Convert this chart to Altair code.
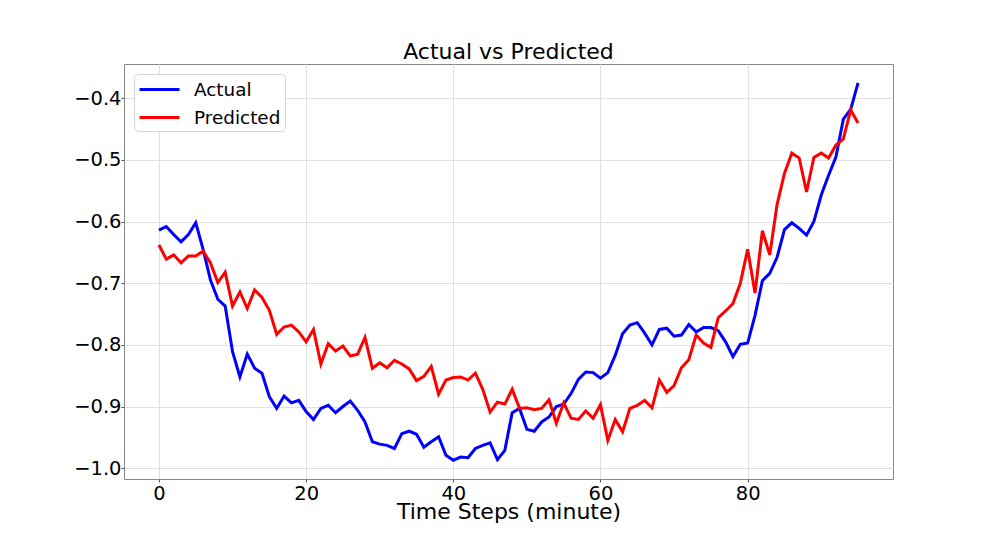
import altair as alt
import pandas as pd

steps = list(range(96))

actual = [
    -0.614, -0.608, -0.621, -0.633, -0.621, -0.602, -0.645, -0.695, -0.726, -0.737,
    -0.811, -0.852, -0.815, -0.838, -0.846, -0.884, -0.903, -0.883, -0.894, -0.890,
    -0.908, -0.921, -0.903, -0.898, -0.910, -0.900, -0.891, -0.906, -0.925, -0.957,
    -0.961, -0.963, -0.968, -0.944, -0.940, -0.945, -0.966, -0.957, -0.949, -0.979,
    -0.987, -0.982, -0.983, -0.968, -0.963, -0.959, -0.986, -0.971, -0.910, -0.903,
    -0.937, -0.940, -0.925, -0.917, -0.900, -0.896, -0.879, -0.856, -0.844, -0.845,
    -0.854, -0.845, -0.817, -0.782, -0.768, -0.764, -0.781, -0.800, -0.775, -0.773,
    -0.786, -0.784, -0.767, -0.779, -0.772, -0.772, -0.777, -0.795, -0.819, -0.799,
    -0.797, -0.752, -0.696, -0.684, -0.658, -0.613, -0.602, -0.611, -0.622, -0.600,
    -0.557, -0.525, -0.495, -0.434, -0.418, -0.375,
]

predicted = [
    -0.638, -0.661, -0.654, -0.667, -0.656, -0.656, -0.648, -0.667, -0.699, -0.682,
    -0.737, -0.714, -0.741, -0.711, -0.723, -0.744, -0.783, -0.771, -0.768, -0.779,
    -0.795, -0.775, -0.831, -0.798, -0.810, -0.802, -0.818, -0.815, -0.788, -0.838,
    -0.829, -0.837, -0.825, -0.831, -0.839, -0.858, -0.851, -0.835, -0.880, -0.857,
    -0.853, -0.852, -0.857, -0.846, -0.872, -0.909, -0.893, -0.896, -0.872, -0.903,
    -0.902, -0.905, -0.903, -0.889, -0.927, -0.894, -0.919, -0.921, -0.907, -0.919,
    -0.897, -0.955, -0.921, -0.941, -0.903, -0.898, -0.890, -0.902, -0.857, -0.877,
    -0.866, -0.837, -0.824, -0.784, -0.797, -0.804, -0.756, -0.745, -0.733, -0.700,
    -0.645, -0.716, -0.615, -0.654, -0.572, -0.522, -0.489, -0.497, -0.552, -0.496,
    -0.489, -0.497, -0.476, -0.466, -0.419, -0.440,
]

series_names = ["Actual", "Predicted"]
series_colors = ["#0000ff", "#ff0000"]
x_ticks = [0, 20, 40, 60, 80]
y_ticks = [-1.0, -0.9, -0.8, -0.7, -0.6, -0.5, -0.4]

rows = []
for name, vals in zip(series_names, [actual, predicted]):
    for s, v in zip(steps, vals):
        rows.append({"step": s, "value": v, "series": name})
df = pd.DataFrame(rows)

FONT = "DejaVu Sans"

chart = (
    alt.Chart(df)
    .mark_line(strokeWidth=3)
    .encode(
        x=alt.X(
            "step:Q",
            title="Time Steps (minute)",
            scale=alt.Scale(domain=[-4.75, 99.75], nice=False, zero=False),
            axis=alt.Axis(values=x_ticks, format="d"),
        ),
        y=alt.Y(
            "value:Q",
            title=None,
            scale=alt.Scale(domain=[-1.0175, -0.3445], nice=False, zero=False),
            axis=alt.Axis(values=y_ticks, format=".1f"),
        ),
        color=alt.Color(
            "series:N",
            scale=alt.Scale(domain=series_names, range=series_colors),
            legend=alt.Legend(
                title=None,
                orient="top-left",
                offset=10,
                symbolType="M-2,0H2",
                symbolSize=400,
                symbolStrokeWidth=3,
                symbolOffset=10,
                labelOffset=23,
                labelFont=FONT,
                labelFontSize=18.4,
                labelColor="black",
                padding=4,
                rowPadding=7,
                fillColor="white",
                strokeColor="#d6d6d6",
                cornerRadius=4,
            ),
        ),
        order="step:Q",
    )
    .properties(
        width=769,
        height=415,
        title=alt.TitleParams(
            "Actual vs Predicted",
            font=FONT,
            fontSize=22,
            fontWeight="normal",
            color="black",
            anchor="middle",
            baseline="alphabetic",
            offset=5,
            dy=22,
        ),
        autosize=alt.AutoSizeParams(type="none"),
        padding={"left": 116, "top": 56, "right": 96, "bottom": 44},
    )
    .configure_view(stroke="#888888", strokeWidth=1)
    .configure_axis(
        labelFont=FONT,
        labelFontSize=19.5,
        labelColor="black",
        titleFont=FONT,
        titleFontSize=22,
        titleFontWeight="normal",
        titleColor="black",
        domain=False,
        grid=True,
        gridColor="#e0e0e0",
        gridWidth=1,
        ticks=True,
        tickSize=3,
        tickColor="#555555",
    )
    .configure_axisX(labelPadding=2, titleBaseline="alphabetic", titlePadding=16)
    .configure_axisY(labelPadding=0)
)

chart.save("out.html", embed_options={"renderer": "svg", "actions": False})
